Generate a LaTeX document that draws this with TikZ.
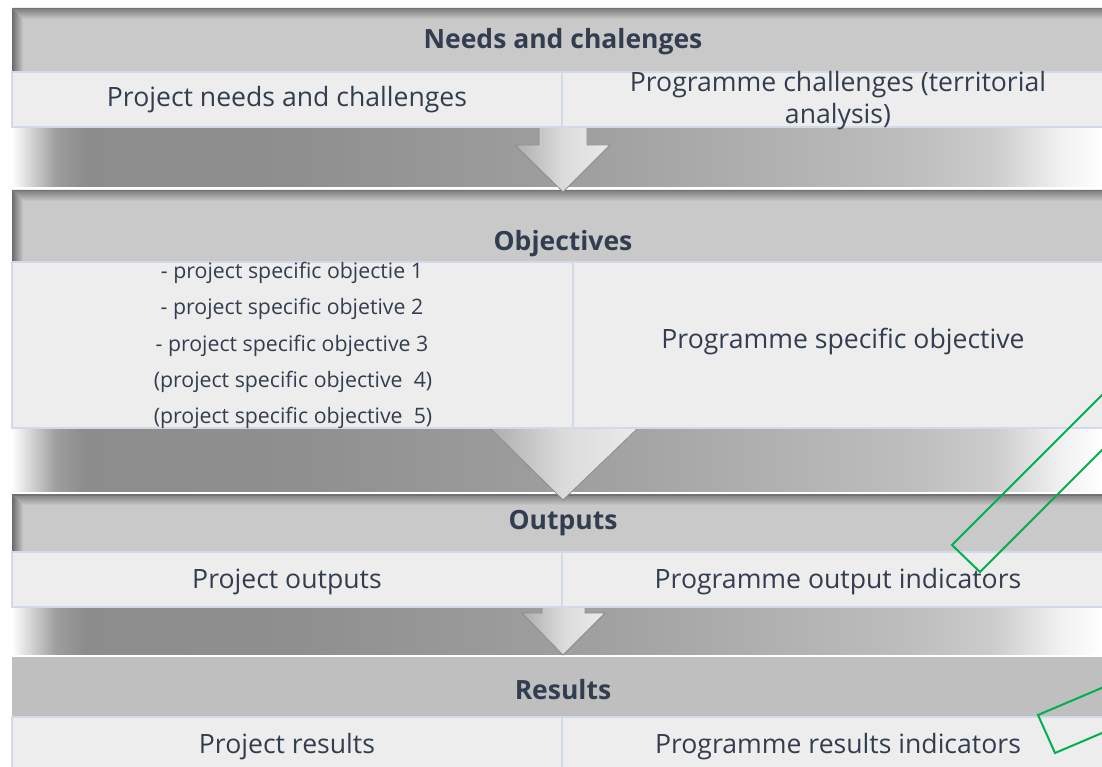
\documentclass[tikz,border=0pt]{standalone}
\usepackage{fontspec}
\setmainfont{Open Sans}
\usetikzlibrary{calc}
\definecolor{txtc}{HTML}{323E4F}
\definecolor{hdr}{HTML}{C9C9C9}
\definecolor{hdrflat}{HTML}{BFBFBF}
\definecolor{cellc}{HTML}{EDEDED}
\definecolor{celld}{HTML}{D2DAEA}
\definecolor{grn}{HTML}{00B050}
\pgfdeclarehorizontalshading{bandshade}{100bp}{color(0bp)=(white); color(25bp)=(white); color(25.6bp)=(black!12); color(27bp)=(black!38); color(28.3bp)=(black!45); color(38bp)=(black!44); color(52bp)=(black!37); color(66bp)=(black!26); color(70bp)=(black!20); color(73bp)=(black!6); color(75bp)=(white); color(100bp)=(white)}
\tikzset{
  hdrtxt/.style={font=\fontsize{26.5}{30}\selectfont\bfseries, text=txtc, inner sep=0pt},
  celltxt/.style={font=\fontsize{26.6}{32}\selectfont, text=txtc, inner sep=0pt, align=center},
  smalltxt/.style={font=\fontsize{21.3}{24}\selectfont, text=txtc, inner sep=0pt},
  cellbox/.style={fill=cellc, draw=celld, line width=1.2pt},
  band/.style={shading=bandshade},
  blockarrow/.style={left color=black!32, right color=white!92!black, middle color=black!14, draw=black!45, line width=0.8pt},
  greenbox/.style={draw=grn, line width=2pt, line join=miter},
}
\newcommand{\bevelhdr}[2]{%
  \fill[hdr] (12,#1) rectangle (1102,#2);
  \shade[top color=black!52, bottom color=hdr] (12,#1) -- (1102,#1) -- (1102,#1+11) -- (23,#1+11) -- cycle;
  \shade[left color=black!58, right color=hdr] (12,#1) -- (23,#1+11) -- (23,#2) -- (12,#2) -- cycle;
  \draw[black!55, line width=1.5pt] (12,#1+0.75) -- (1102,#1+0.75);
}
\begin{document}
\begin{tikzpicture}[x=1pt, y=-1pt]
\useasboundingbox (0,0) rectangle (1102,767);
\clip (0,0) rectangle (1102,767);
\fill[white] (0,0) rectangle (1102,767);

% headers
\bevelhdr{8}{72}
\bevelhdr{190}{262}
\bevelhdr{494}{552}
\fill[hdrflat] (12,657) rectangle (1102,717);

% gradient bands
\shade[band] (12,127) rectangle (1102,187);
\shade[band] (12,428) rectangle (1102,491);
\shade[band] (12,607) rectangle (1102,654);

% block arrows
\path[blockarrow] (539,112) -- (587,112) -- (587,145) -- (610,145) -- (563,192) -- (515,145) -- (539,145) -- cycle;
\path[blockarrow] (523,400) -- (603,400) -- (603,428) -- (638,428) -- (563,500) -- (490,428) -- (523,428) -- cycle;
\path[blockarrow] (542,590) -- (585,590) -- (585,613) -- (605,613) -- (563,655) -- (522,613) -- (542,613) -- cycle;

% cells
\path[cellbox] (12,72) rectangle (562,127);
\path[cellbox] (562,72) rectangle (1104,127);
\path[cellbox] (12,262) rectangle (573,428);
\path[cellbox] (573,262) rectangle (1104,428);
\path[cellbox] (12,552) rectangle (562,607);
\path[cellbox] (562,552) rectangle (1104,607);
\path[cellbox] (12,717) rectangle (562,769);
\path[cellbox] (562,717) rectangle (1104,769);

% header texts
\node[hdrtxt] (h1) at (563,42) {Needs and chalenges};
\node[hdrtxt] (h2) at (563,244) {Objectives};
\node[hdrtxt] (h3) at (563,523) {Outputs};
\node[hdrtxt] (h4) at (563,690) {Results};

% cell texts
\node[celltxt] (c11) at (287,100) {Project needs and challenges};
\node[celltxt] (c12) at (838,101) {Programme challenges (territorial\\analysis)};
\node[smalltxt] (o1) at (292,273) {- project specific objectie 1};
\node[smalltxt] (o2) at (292,309) {- project specific objetive 2};
\node[smalltxt] (o3) at (292,346) {- project specific objective 3};
\node[smalltxt] (o4) at (293,382) {(project specific objective~ 4)};
\node[smalltxt] (o5) at (293,418) {(project specific objective~ 5)};
\node[celltxt] (c22) at (843,342) {Programme specific objective};
\node[celltxt] (c31) at (287,582) {Project outputs};
\node[celltxt] (c32) at (838,582) {Programme output indicators};
\node[celltxt] (c41) at (287,747) {Project results};
\node[celltxt] (c42) at (838,747) {Programme results indicators};

% green rotated boxes
\coordinate (ga) at (952,545);
\coordinate (gb) at (980,572);
\draw[greenbox] (ga) -- (gb) -- ($(gb)+(220,-220)$) -- ($(ga)+(220,-220)$) -- cycle;
\coordinate (gc) at (1038,715);
\coordinate (gd) at (1055,753);
\draw[greenbox] (gc) -- (gd) -- ($(gd)+(160,-68)$) -- ($(gc)+(160,-68)$) -- cycle;
\end{tikzpicture}
\end{document}
